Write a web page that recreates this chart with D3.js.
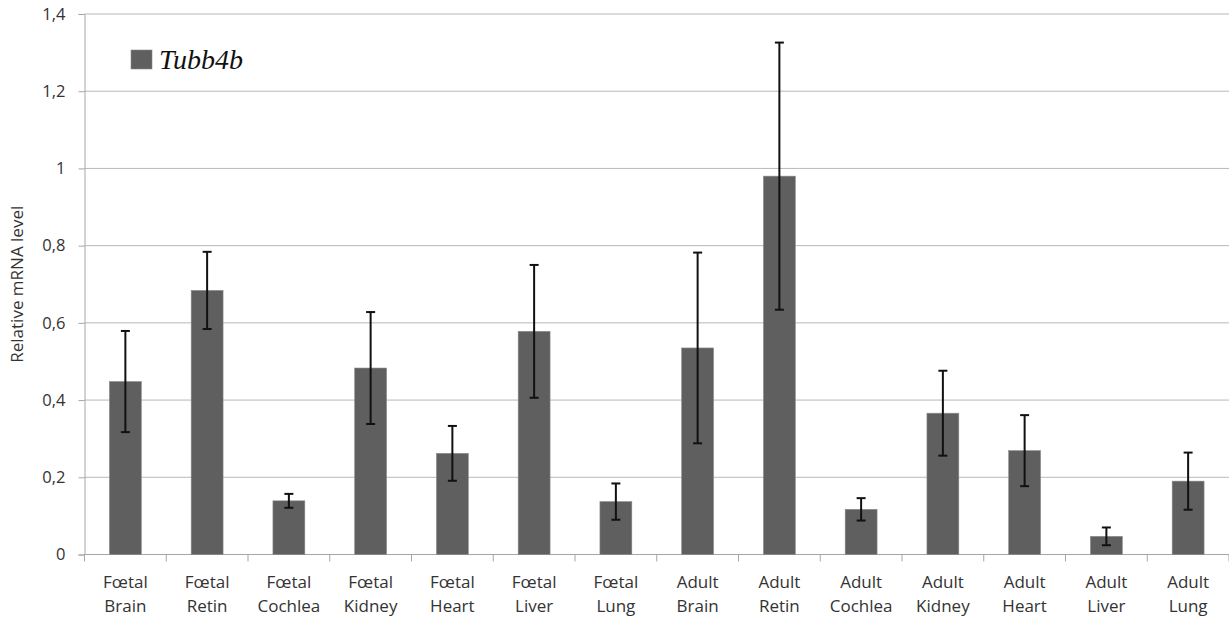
<!DOCTYPE html>
<html>
<head>
<meta charset="utf-8">
<script src="https://cdn.jsdelivr.net/npm/d3@7"></script>
<style>
  body { margin: 0; background: #fff; }
  .sans { font-family: "Open Sans", "Liberation Sans", sans-serif; fill: #333; }
  .legend-label { font-family: "Liberation Serif", "Times New Roman", "DejaVu Serif", serif; font-style: italic; fill: #111; }
</style>
</head>
<body>
<div id="chart"></div>
<script>
// categories, two-line labels
const groups = ['Fœtal','Fœtal','Fœtal','Fœtal','Fœtal','Fœtal','Fœtal','Adult','Adult','Adult','Adult','Adult','Adult','Adult'];
const tissues = ['Brain','Retin','Cochlea','Kidney','Heart','Liver','Lung','Brain','Retin','Cochlea','Kidney','Heart','Liver','Lung'];
// relative mRNA level and error (sd)
const values = [0.448, 0.684, 0.139, 0.483, 0.262, 0.578, 0.137, 0.535, 0.980, 0.117, 0.366, 0.269, 0.047, 0.190];
const errors = [0.131, 0.100, 0.018, 0.145, 0.071, 0.172, 0.047, 0.247, 0.346, 0.029, 0.110, 0.092, 0.023, 0.074];
const yTicks = [0, 0.2, 0.4, 0.6, 0.8, 1, 1.2, 1.4];
const seriesName = 'Tubb4b';

const width = 1229, height = 617;
const margin = {top: 14, right: 0, bottom: 62.5, left: 84.5};
const innerW = width - margin.left - margin.right;
const innerH = height - margin.top - margin.bottom;

const data = values.map((v, i) => ({key: i, group: groups[i], tissue: tissues[i], value: v, err: errors[i]}));

const svg = d3.select('#chart').append('svg')
  .attr('width', width)
  .attr('height', height);

const g = svg.append('g')
  .attr('transform', `translate(${margin.left},${margin.top})`);

const xScale = d3.scaleBand()
  .domain(data.map(d => d.key))
  .range([0, innerW])
  .paddingInner(0.61)
  .paddingOuter(0.305);

const yScale = d3.scaleLinear()
  .domain([0, 1.4])
  .range([innerH, 0]);

// gridlines
g.append('g')
  .selectAll('line')
  .data(yTicks.filter(t => t > 0))
  .enter().append('line')
  .attr('x1', 0)
  .attr('x2', innerW)
  .attr('y1', d => yScale(d))
  .attr('y2', d => yScale(d))
  .attr('stroke', '#b8b8b8')
  .attr('stroke-width', 1);

// y axis
const yAxisG = g.append('g')
  .call(d3.axisLeft(yScale).tickValues(yTicks).tickSize(6).tickPadding(13)
    .tickFormat(d => String(d).replace('.', ',')));
yAxisG.select('.domain').attr('stroke', '#a6a6a6');
yAxisG.selectAll('.tick line').attr('stroke', '#a6a6a6');
yAxisG.selectAll('.tick text')
  .attr('class', 'sans')
  .style('font-size', '16.5px');

// x axis with ticks at band boundaries
const xAxisG = g.append('g')
  .attr('transform', `translate(0,${innerH})`);
xAxisG.append('line')
  .attr('x1', 0).attr('x2', innerW)
  .attr('stroke', '#a6a6a6');
const step = xScale.step();
xAxisG.selectAll('.xtick')
  .data(d3.range(data.length + 1))
  .enter().append('line')
  .attr('class', 'xtick')
  .attr('x1', d => d * step)
  .attr('x2', d => d * step)
  .attr('y1', 0)
  .attr('y2', 7)
  .attr('stroke', '#a6a6a6');

const labels = xAxisG.selectAll('.xlabel')
  .data(data)
  .enter().append('text')
  .attr('class', 'xlabel sans')
  .attr('text-anchor', 'middle')
  .attr('x', d => xScale(d.key) + xScale.bandwidth() / 2)
  .style('font-size', '17px');
labels.append('tspan')
  .attr('x', d => xScale(d.key) + xScale.bandwidth() / 2)
  .attr('y', 33)
  .text(d => d.group);
labels.append('tspan')
  .attr('x', d => xScale(d.key) + xScale.bandwidth() / 2)
  .attr('y', 57)
  .text(d => d.tissue);

// bars
g.selectAll('.bar')
  .data(data)
  .enter().append('rect')
  .attr('class', 'bar')
  .attr('x', d => xScale(d.key))
  .attr('y', d => yScale(d.value))
  .attr('width', xScale.bandwidth())
  .attr('height', d => innerH - yScale(d.value))
  .attr('fill', '#5f5f5f')
  .attr('stroke', '#8a8a8a')
  .attr('stroke-width', 0.6);

// error bars
const errG = g.append('g');
data.forEach(function (d) {
  const cx = xScale(d.key) + xScale.bandwidth() / 2;
  const top = yScale(d.value + d.err);
  const bot = yScale(d.value - d.err);
  errG.append('line')
    .attr('x1', cx).attr('x2', cx)
    .attr('y1', top).attr('y2', bot)
    .attr('stroke', '#111').attr('stroke-width', 2);
  [top, bot].forEach(function (y) {
    errG.append('line')
      .attr('x1', cx - 4.5).attr('x2', cx + 4.5)
      .attr('y1', y).attr('y2', y)
      .attr('stroke', '#111').attr('stroke-width', 2);
  });
});

// y axis title
svg.append('text')
  .attr('class', 'sans')
  .attr('transform', `translate(23,${margin.top + innerH / 2}) rotate(-90)`)
  .attr('text-anchor', 'middle')
  .style('font-size', '17px')
  .text('Relative mRNA level');

// legend
const legend = svg.append('g');
legend.append('rect')
  .attr('x', 131)
  .attr('y', 50)
  .attr('width', 21)
  .attr('height', 19)
  .attr('fill', '#5f5f5f')
  .attr('stroke', '#8a8a8a')
  .attr('stroke-width', 0.6);
legend.append('text')
  .attr('class', 'legend-label')
  .attr('x', 159)
  .attr('y', 69)
  .style('font-size', '28px')
  .text(seriesName);
</script>
</body>
</html>
